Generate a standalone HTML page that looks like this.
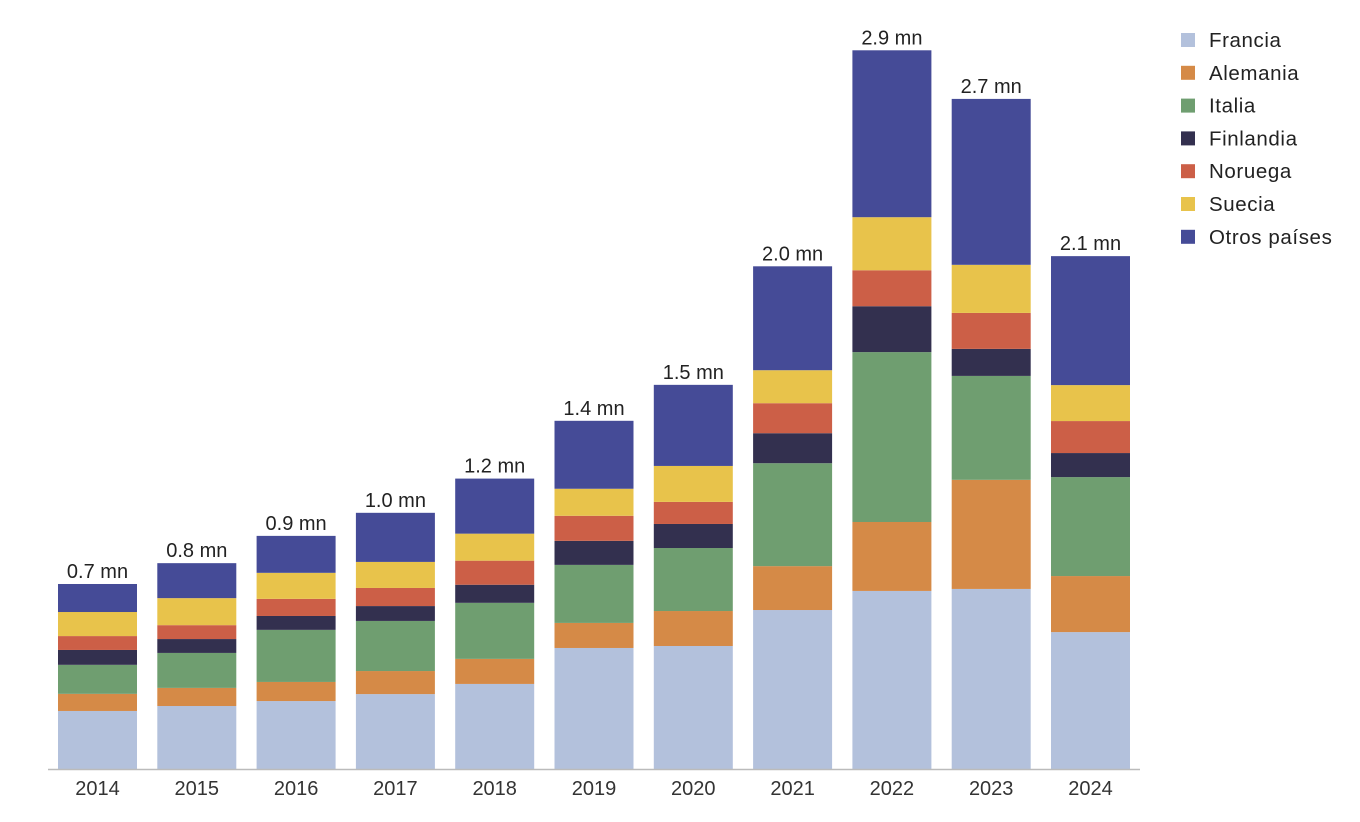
<!DOCTYPE html>
<html><head><meta charset="utf-8"><style>
body{margin:0;background:#fff;}
svg{display:block;font-family:"Liberation Sans",Arial,sans-serif;}
</style></head><body>
<svg id="chart" width="1360" height="822"></svg>
<script>
const years=["2014","2015","2016","2017","2018","2019","2020","2021","2022","2023","2024"];
const totalLabels=["0.7 mn","0.8 mn","0.9 mn","1.0 mn","1.2 mn","1.4 mn","1.5 mn","2.0 mn","2.9 mn","2.7 mn","2.1 mn"];
const seriesNames=["Francia","Alemania","Italia","Finlandia","Noruega","Suecia","Otros países"];
const francia=[234,254,274,302,343,488,496,641,718,726,552];
const alemania=[69,73,77,93,101,101,141,177,278,440,226];
const italia=[117,141,210,202,226,234,254,415,685,419,399];
const finlandia=[60,56,56,60,73,97,97,121,185,109,97];
const noruega=[56,56,69,73,97,101,89,121,145,145,129];
const suecia=[97,109,105,105,109,109,145,133,214,194,145];
const otros=[113,141,149,198,222,274,327,419,673,669,520];
const series=[francia,alemania,italia,finlandia,noruega,suecia,otros];
const colors=["#b3c1dc","#d58a47","#6f9e70","#33304f","#cc5f47","#e8c34b","#454b97"];
const NS="http://www.w3.org/2000/svg";
const svg=document.getElementById('chart');
const base=769, pxPer=0.248;
const yS=v=>base-v*pxPer;
const xC=i=>97.5+i*99.3;
const bw=79;
function mk(t,a){const e=document.createElementNS(NS,t);for(const k in a)e.setAttribute(k,a[k]);svg.appendChild(e);return e;}
years.forEach((yr,i)=>{
  let cum=0;
  series.forEach((s,j)=>{
    const y0=yS(cum), y1=yS(cum+s[i]);
    const r=mk('rect',{x:xC(i)-bw/2,y:y1,width:bw,height:y0-y1,fill:colors[j]});
    
    
    cum+=s[i];
  });
  const t=mk('text',{x:xC(i),y:yS(cum)-6,'text-anchor':'middle','font-size':20,fill:'#222'});
  t.textContent=totalLabels[i];
  
  
  const xl=mk('text',{x:xC(i),y:795,'text-anchor':'middle','font-size':20,fill:'#333'});
  xl.textContent=yr;
  
  
});
const ax=mk('line',{x1:48,x2:1140,y1:base+0.5,y2:base+0.5,stroke:'#bbb','stroke-width':1.5});


seriesNames.forEach((n,j)=>{
  const y=40+j*32.8;
  const sq=mk('rect',{x:1181,y:y-7,width:14,height:14,fill:colors[j]});
  
  
  const t=mk('text',{x:1209,y:y+7,'font-size':20.5,'letter-spacing':0.6,fill:'#222'});
  t.textContent=n;
  
  
});
</script>
</body></html>
